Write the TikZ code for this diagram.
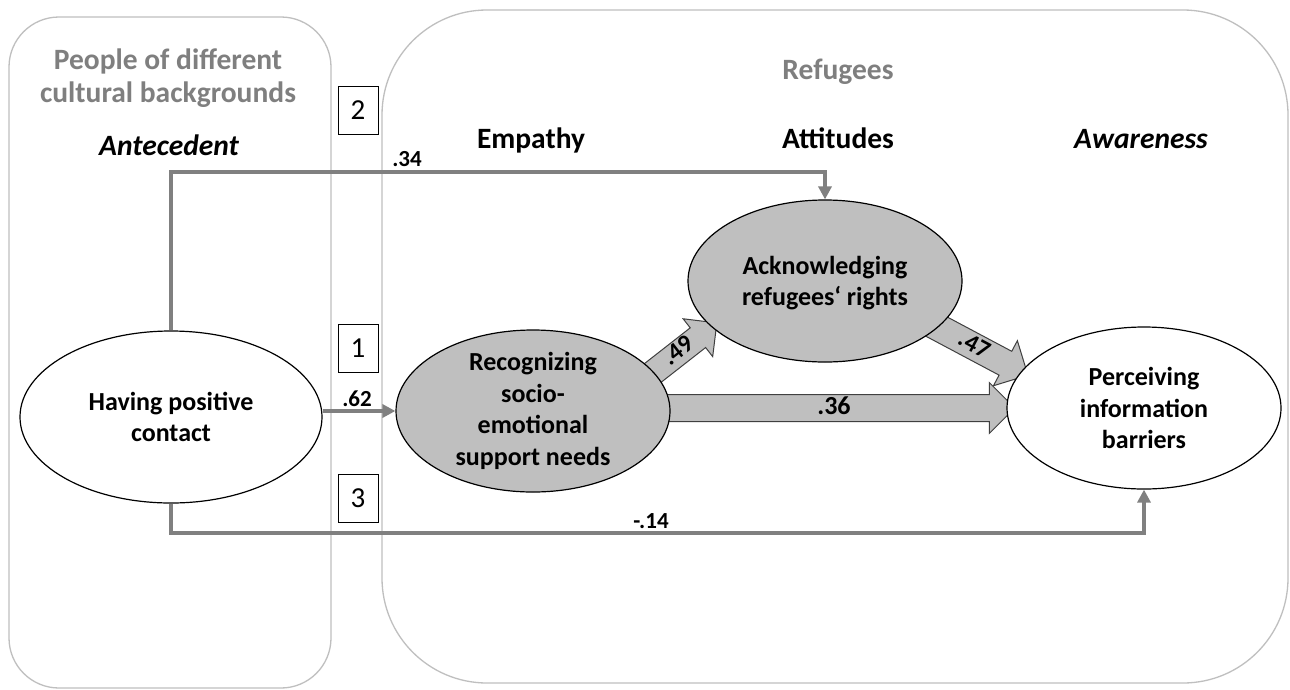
\documentclass[tikz,border=0pt]{standalone}
\usepackage{fontspec}
\setmainfont{Carlito}
\usetikzlibrary{shapes.geometric,shapes.arrows,arrows.meta,calc}
\definecolor{linegray}{HTML}{808080}
\definecolor{boxgray}{HTML}{BFBFBF}
\definecolor{fillgray}{HTML}{BFBFBF}
\definecolor{titlegray}{HTML}{7F7F7F}
\definecolor{edgegray}{HTML}{404040}
\tikzset{
  region/.style={draw=boxgray, line width=1.3pt, rounded corners=#1},
  oval/.style={ellipse, draw=black, line width=1.2pt, minimum width=274pt, minimum height=162pt, inner sep=0pt},
  whiteoval/.style={oval, fill=white},
  grayoval/.style={oval, fill=fillgray},
  ovaltext/.style={align=center, font=\fontsize{26}{31.5}\selectfont\bfseries},
  grouptitle/.style={font=\fontsize{29.5}{33}\selectfont\bfseries, text=titlegray, align=center},
  heading/.style={font=\fontsize{29.5}{30}\selectfont\bfseries, anchor=base},
  numbox/.style={draw=black, line width=1pt, fill=white, minimum width=40pt, minimum height=48pt, inner sep=0pt, font=\fontsize{29}{30}\selectfont},
  pathline/.style={draw=linegray, line width=4pt, -{Triangle[length=13pt,width=13pt]}},
  coef/.style={font=\fontsize{23}{24}\selectfont\bfseries, anchor=base},
  blockarrow/.style={single arrow, draw=edgegray, fill=fillgray, line width=1pt, inner xsep=0pt, inner ysep=0pt, minimum width=1pt, single arrow tip angle=90, font=\fontsize{25}{26}\selectfont\bfseries},
}
\begin{document}
\begin{tikzpicture}[x=1pt,y=-1pt]
\useasboundingbox (0,0) rectangle (1290,689);
\fill[white] (0,0) rectangle (1290,689);
% group regions
\draw[region=50pt] (9,17) rectangle (331,688);
\draw[region=105pt] (382,10) rectangle (1288,683);
% titles
\node[grouptitle] (tPeople) at (168,78) {People of different\\cultural backgrounds};
\node[heading, text=titlegray] (tRef) at (838,79) {Refugees};
\node[heading] (tAnte) at (169,155) {\itshape Antecedent};
\node[heading] (tEmp) at (531,148) {Empathy};
\node[heading] (tAtt) at (838,148) {Attitudes};
\node[heading] (tAwa) at (1141,148) {\itshape Awareness};
% number boxes
\node[numbox] (n2) at (358,110) {2};
\node[numbox] (n1) at (358,348) {1};
\node[numbox] (n3) at (358,498) {3};
% block arrows
\node[blockarrow, rotate=38, text height=18pt, text depth=6pt, single arrow head extend=11.5pt, minimum height=83pt] (a49) at (679.2,352.3) {.49};
\node[blockarrow, rotate=-28, text height=19pt, text depth=7pt, single arrow head extend=12pt, minimum height=110pt] (a47) at (973.4,346.2) {.47};
\node[blockarrow, text height=19pt, text depth=7pt, single arrow head extend=12pt, minimum height=348pt, font=\fontsize{26}{26}\selectfont\bfseries] (a36) at (834,408) {.36};
% ellipses
\node[whiteoval, minimum width=302pt, minimum height=172pt] (Having) at (171,417) {};
\node[grayoval] (Recog) at (533,411) {};
\node[grayoval] (Ack) at (825,281) {};
\node[whiteoval] (Perc) at (1144,408) {};
\node[ovaltext] (HavingT) at (Having.center) {Having positive\\contact};
\node[ovaltext] (RecogT) at (Recog.center) {Recognizing\\socio-\\emotional\\support needs};
\node[ovaltext] (AckT) at ($(Ack.center)+(0,2)$) {Acknowledging\\refugees‘ rights};
\node[ovaltext] (PercT) at (Perc.center) {Perceiving\\information\\barriers};
% connectors
\coordinate (top2) at (400,172);
\coordinate (bot3) at (400,533);
\draw[pathline] (Having.north) |- (top2) -| (Ack.north);
\draw[pathline] (Having.east |- Recog.west) -- (Recog.west);
\draw[pathline] (Having.south) |- (bot3) -| (Perc.south);
% coefficients
\node[coef] (c34) at (407,166) {.34};
\node[coef] (c62) at (357,406) {.62};
\node[coef] (c14) at (651,528) {-.14};
\end{tikzpicture}
\end{document}
